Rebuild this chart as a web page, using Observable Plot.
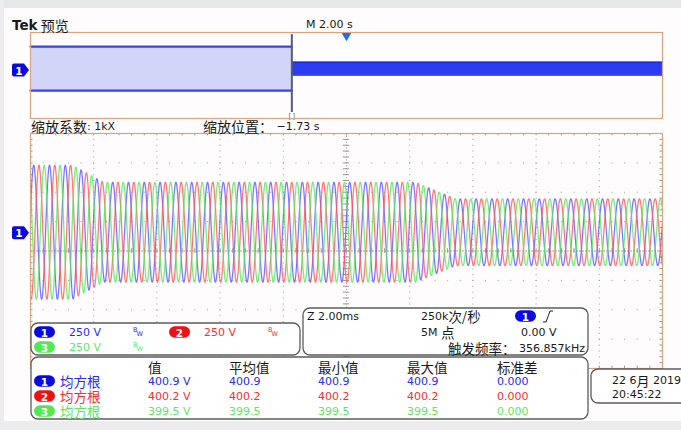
<!DOCTYPE html>
<html><head><meta charset="utf-8">
<script src="https://cdn.jsdelivr.net/npm/d3@7"></script>
<script src="https://cdn.jsdelivr.net/npm/@observablehq/plot@0.6"></script>
<style>
body{margin:0;background:#fff;}
#wrap{position:relative;width:681px;height:430px;overflow:hidden;background:#fefcfd;}
#wrap svg{position:absolute;left:0;top:0;}
.strip{position:absolute;}
</style></head><body>
<div id="wrap">
 <div class="strip" style="left:0;top:0;width:681px;height:8px;background:#e6e7e9"></div>
 <div class="strip" style="left:0;top:0;width:4px;height:430px;background:#ececef"></div>
 <div class="strip" style="left:0;top:421px;width:681px;height:9px;background:#ececef"></div>
</div>
<script>
const timeDomainMs = [0, 20];          // Z 2.00 ms/div × 10 div
const voltsDomain = [-1000, 1000];     // 250 V/div × 8 div
const channelPosV = 160;               // channel 1 ground marker position
const wavePeriodMs = 0.5;              // ≈40 cycles across the zoom window
const ch1PeakMs = 2.102;               // first blue crest position
const phaseLagDeg = [0, 120, 240];     // ch1, ch2, ch3
const envelopeMs = [0, 1.33, 2.31, 12.18, 13.45, 20];
const envelopeV  = [570, 570, 425, 425, 284, 284];

const previewDomainS = [-10, 10];      // M 2.00 s/div
const zoomPosS = -1.73;
const triggerS = 0;
const previewBandStartS = [-10, -1.73];
const previewBandEndS = [-1.73, 10];
const previewAmpV = [512, 151];

const chNames = ["1", "2", "3"];
const traceColors = ["#5555ff", "#ff5555", "#55e855"];
const textColors = ["#2a2af0", "#f23030", "#62e462"];
const pillColors = ["#0a0ae0", "#ee1212", "#55e655"];
const chScales = ["250 V", "250 V", "250 V"];

const measHeaders = ["值", "平均值", "最小值", "最大值", "标准差"];
const measType = "均方根";
const measValue = ["400.9 V", "400.2 V", "399.5 V"];
const measMean = ["400.9", "400.2", "399.5"];
const measMin  = ["400.9", "400.2", "399.5"];
const measMax  = ["400.9", "400.2", "399.5"];
const measStd  = ["0.000", "0.000", "0.000"];

const timebaseLabel = "Z 2.00ms";
const sampleRate = ["250k", "次/秒"];
const recordLen = ["5M ", "点"];
const trigLevel = "0.00 V";
const trigFreq = ["触发频率：", " 356.857kHz"];
const dateLabel = ["22 6", "月", " 2019"];
const timeLabel = "20:45:22";

// ---------- traces ----------
const env = d3.scaleLinear().domain(envelopeMs).range(envelopeV);
const N = 4000;
const waves = phaseLagDeg.map((lag, i) => d3.range(N + 1).map(k => {
  const t = timeDomainMs[0] + (timeDomainMs[1] - timeDomainMs[0]) * k / N;
  const ph = 2 * Math.PI * (t - ch1PeakMs) / wavePeriodMs - lag * Math.PI / 180;
  return {t, v: channelPosV + env(t) * Math.cos(ph), ch: chNames[i]};
}));

const xMajor = d3.range(2, 19.9, 2).filter(d => d !== 10);
const yMajor = d3.range(-750, 751, 250).filter(d => d !== 0);
const xMinor = d3.range(0, 20.001, 0.4);
const yMinor = d3.range(-1000, 1000.1, 50);
const grid = "#9a9a9a";

const main = Plot.plot({
  width: 681, height: 430,
  marginLeft: 30, marginRight: 19, marginTop: 133, marginBottom: 62,
  x: {domain: timeDomainMs, axis: null},
  y: {domain: voltsDomain, axis: null},
  style: {background: "transparent", overflow: "visible"},
  marks: [
    Plot.ruleX(xMajor, {stroke: grid, strokeDasharray: "1,4.88"}),
    Plot.ruleY(yMajor, {stroke: grid, strokeDasharray: "1,11.64"}),
    Plot.ruleX([10], {stroke: grid, strokeDasharray: "1,1.94"}),
    Plot.ruleY([0], {stroke: "#a8a8a8", strokeDasharray: "2,1"}),
    Plot.ruleY(yMinor, {y: d => d, x1: 9.9, x2: 10.1, stroke: grid}),
    Plot.ruleX(xMinor, {x: d => d, y1: -20, y2: 20, stroke: grid}),
    Plot.ruleX(xMinor, {x: d => d, y1: 1000, y2: 980, stroke: grid}),
    Plot.ruleX(xMinor, {x: d => d, y1: -1000, y2: -980, stroke: grid}),
    Plot.ruleY(yMinor, {y: d => d, x1: 0, x2: 0.08, stroke: grid}),
    Plot.ruleY(yMinor, {y: d => d, x1: 19.92, x2: 20, stroke: grid}),
    ...waves.map((w, i) => Plot.line(w, {x: "t", y: "v", stroke: traceColors[i], strokeWidth: 1.25, strokeOpacity: 0.8})),
    Plot.frame({stroke: "#d7a47e", strokeWidth: 1.2})
  ]
});
document.getElementById("wrap").appendChild(main);

// ---------- preview ----------
const bandL = previewBandStartS.map(t => ({t, lo: channelPosV - previewAmpV[0], hi: channelPosV + previewAmpV[0]}));
const bandR = previewBandEndS.map(t => ({t, lo: channelPosV - previewAmpV[1], hi: channelPosV + previewAmpV[1]}));
const preview = Plot.plot({
  width: 681, height: 430,
  marginLeft: 30, marginRight: 19, marginTop: 32, marginBottom: 312,
  x: {domain: previewDomainS, axis: null},
  y: {domain: voltsDomain, axis: null},
  style: {background: "transparent", overflow: "visible"},
  marks: [
    Plot.areaY(bandL, {x: "t", y1: "lo", y2: "hi", fill: "#d2d5f7"}),
    Plot.lineY(bandL, {x: "t", y: "hi", stroke: "#3545ea", strokeWidth: 2.2}),
    Plot.lineY(bandL, {x: "t", y: "lo", stroke: "#3545ea", strokeWidth: 2.2}),
    Plot.areaY(bandR, {x: "t", y1: "lo", y2: "hi", fill: "#2c3df0"}),
    Plot.lineY(bandR, {x: "t", y: "hi", stroke: "#1626e6", strokeWidth: 1.5}),
    Plot.lineY(bandR, {x: "t", y: "lo", stroke: "#1626e6", strokeWidth: 1.5}),
    Plot.ruleX([zoomPosS], {y1: 950, y2: -860, stroke: "#4f5d7e", strokeWidth: 2}),
    Plot.text([zoomPosS], {x: d => d, y: -935, text: () => "[ ]", fontSize: 7, fill: "#5a6f99"}),
    Plot.dot([triggerS], {x: d => d, y: 925, symbol: "triangle", r: 3.6, rotate: 180, fill: "#1f6ee8", stroke: "none"}),
    Plot.frame({stroke: "#d7a47e", strokeWidth: 1.2})
  ]
});
document.getElementById("wrap").appendChild(preview);

// ---------- overlay text / panels ----------
const LAT = "'DejaVu Sans', sans-serif";
const CJK = "'Noto Sans CJK SC', sans-serif";
const ov = d3.select("#wrap").append("svg").attr("width", 681).attr("height", 430);

function mixed(x, y, parts, opt = {}) {
  const t = ov.append("text").attr("x", x).attr("y", y)
    .attr("dominant-baseline", "central").attr("fill", opt.fill || "#1a1a1a")
    .attr("text-anchor", opt.anchor || "start");
  parts.forEach(([s, size, fam, weight]) => {
    t.append("tspan").attr("font-size", size).attr("font-family", fam)
      .attr("font-weight", weight || "normal").text(s);
  });
  return t;
}
function box(x, y, w, h) {
  ov.append("rect").attr("x", x).attr("y", y).attr("width", w).attr("height", h)
    .attr("rx", 7).attr("fill", "#fff").attr("stroke", "#5c5c5c").attr("stroke-width", 1.3);
}
function pill(x, y, i) {
  ov.append("rect").attr("x", x).attr("y", y - 5.8).attr("width", 21).attr("height", 11.6)
    .attr("rx", 5.8).attr("fill", pillColors[i]);
  ov.append("text").attr("x", x + 10.5).attr("y", y + 0.5).attr("dominant-baseline", "central")
    .attr("text-anchor", "middle").attr("font-size", 10.5).attr("font-weight", "bold")
    .attr("font-family", LAT).attr("fill", "#fff").text(chNames[i]);
}
function marker(y) {
  ov.append("path").attr("d", `M14,${y-6.5} H24 L29,${y} L24,${y+6.5} H14 Q12,${y+6.5} 12,${y+4.5} V${y-4.5} Q12,${y-6.5} 14,${y-6.5} Z`)
    .attr("fill", "#0a0ae0");
  ov.append("text").attr("x", 19).attr("y", y + 0.5).attr("dominant-baseline", "central")
    .attr("text-anchor", "middle").attr("font-size", 10.5).attr("font-weight", "bold")
    .attr("font-family", LAT).attr("fill", "#fff").text("1");
}
function bw(x, y, color) {
  ov.append("text").attr("x", x).attr("y", y - 2).attr("font-size", 6.5).attr("font-family", LAT)
    .attr("dominant-baseline", "central").attr("fill", color).text("B");
  ov.append("text").attr("x", x + 3.5).attr("y", y + 2).attr("font-size", 6.5).attr("font-family", LAT)
    .attr("dominant-baseline", "central").attr("fill", color).text("W");
}

// header
mixed(12, 25, [["Tek", 13.5, LAT, "bold"], [" 预览", 14, CJK]]);
mixed(306, 24, [["M 2.00 s", 11, LAT]]);
mixed(31, 126, [["缩放系数", 14, CJK], [": 1kX", 11, LAT]]);
mixed(203, 126, [["缩放位置：", 14, CJK], [" −1.73 s", 11, LAT]]);

// channel markers
marker(preview.scale("y").apply(channelPosV) + 2);
marker(main.scale("y").apply(channelPosV) + 1);

// channel box
box(31, 323, 269, 32);
const chPos = [[34, 332], [169, 332], [34, 347]];
chPos.forEach(([x, y], i) => {
  pill(x, y, i);
  mixed(x + 35, y, [[chScales[i], 11, LAT]], {fill: textColors[i]});
  bw(x + 99, y, textColors[i]);
});

// info box
box(303, 308, 285, 47);
mixed(307, 316, [[timebaseLabel, 11, LAT]]);
mixed(421, 316, [[sampleRate[0], 11, LAT], [sampleRate[1], 13.5, CJK]]);
pill(515, 316, 0);
ov.append("path").attr("d", "M543,322 H546 L550,311 H553").attr("fill", "none")
  .attr("stroke", "#222").attr("stroke-width", 1);
mixed(421, 332, [[recordLen[0], 11, LAT], [recordLen[1], 13.5, CJK]]);
mixed(521, 332, [[trigLevel, 11, LAT]]);
mixed(585, 347.5, [[trigFreq[0], 13.5, CJK], [trigFreq[1], 11, LAT]], {anchor: "end"});

// measurement box
box(31, 357, 557, 62);
const colX = [148, 229, 318, 407, 497];
measHeaders.forEach((h, j) => mixed(colX[j], 366.5, [[h, 13.5, CJK]]));
const rowY = [381, 396, 411];
const cols = [measValue, measMean, measMin, measMax, measStd];
rowY.forEach((y, i) => {
  pill(34, y, i);
  mixed(60, y, [[measType, 13.5, CJK]], {fill: textColors[i]});
  cols.forEach((c, j) => mixed(colX[j], y, [[c[i], 11, LAT]], {fill: textColors[i]}));
});

// date box
box(591, 369, 100, 34);
mixed(612, 380, [[dateLabel[0], 11, LAT], [dateLabel[1], 13, CJK], [dateLabel[2], 11, LAT]]);
mixed(612, 394, [[timeLabel, 11, LAT]]);
</script>
</body></html>
